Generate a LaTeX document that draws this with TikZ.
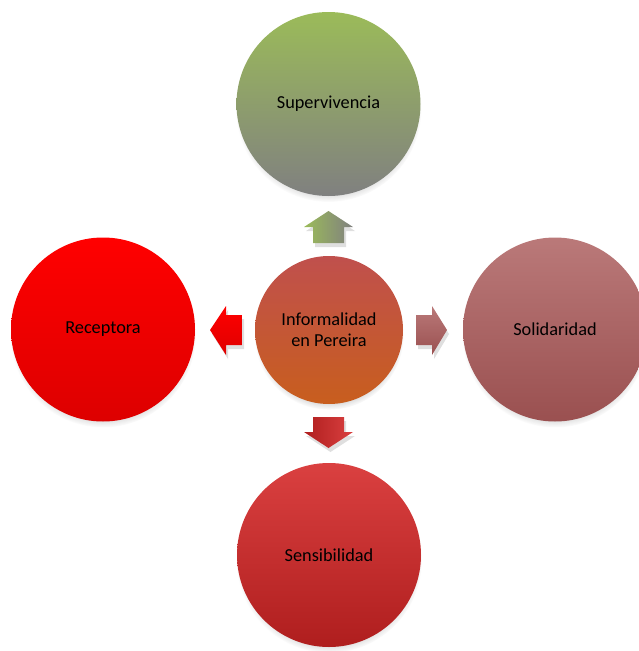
\documentclass[tikz,border=0pt]{standalone}
\usepackage{fontspec}
\setmainfont{Carlito}
\usetikzlibrary{shadows}

\definecolor{verde}{RGB}{155,187,89}
\definecolor{gris}{RGB}{128,128,128}
\definecolor{rojoA}{RGB}{192,80,77}
\definecolor{naranja}{RGB}{200,94,30}
\definecolor{rojo}{RGB}{255,0,0}
\definecolor{rojoB}{RGB}{221,0,0}
\definecolor{rosaA}{RGB}{186,121,121}
\definecolor{rosaB}{RGB}{154,80,80}
\definecolor{carmesiA}{RGB}{218,64,64}
\definecolor{carmesiB}{RGB}{175,30,30}

\begin{document}
\begin{tikzpicture}[x=1pt, y=-1pt,
    circulo/.style={circle, inner sep=0pt, minimum size=184pt, align=center,
        font=\fontsize{18.3}{20.7}\selectfont,
        circular drop shadow={shadow xshift=0pt, shadow yshift=-5pt, shadow scale=1.01, opacity=0.45}},
    flecha/.style={drop shadow={shadow xshift=2pt, shadow yshift=-4pt, opacity=0.25}}]
    \useasboundingbox (0,0) rectangle (639,651);
    % circulos
    \node[circulo, top color=verde, bottom color=gris] (sup) at (328.5, 104) {Supervivencia};
    \node[circulo, top color=rojo, bottom color=rojoB] (rec) at (103, 329.5) {Receptora};
    \node[circulo, top color=rosaA, bottom color=rosaB] (sol) at (555, 329.5) {Solidaridad};
    \node[circulo, top color=carmesiA, bottom color=carmesiB] (sen) at (329, 555) {Sensibilidad};
    \node[circulo, minimum size=148pt, top color=rojoA, bottom color=naranja] (inf) at (329, 330) {Informalidad\\en Pereira};
    % flechas
    \shade[flecha, left color=verde, right color=gris] (328.5,211) -- (353,227) -- (344,227) -- (344,243) -- (313,243) -- (313,227) -- (304,227) -- cycle;
    \shade[flecha, top color=rojo, bottom color=rojoB!95!rojo] (210,330) -- (226,306) -- (226,315) -- (242,315) -- (242,345) -- (226,345) -- (226,355) -- cycle;
    \shade[flecha, top color=rosaA, bottom color=rosaB] (447,330) -- (432,306) -- (432,315) -- (416,315) -- (416,345) -- (432,345) -- (432,355) -- cycle;
    \shade[flecha, left color=carmesiB, right color=carmesiA] (328.5,448) -- (353,432) -- (344,432) -- (344,417) -- (313,417) -- (313,432) -- (304,432) -- cycle;
\end{tikzpicture}
\end{document}
